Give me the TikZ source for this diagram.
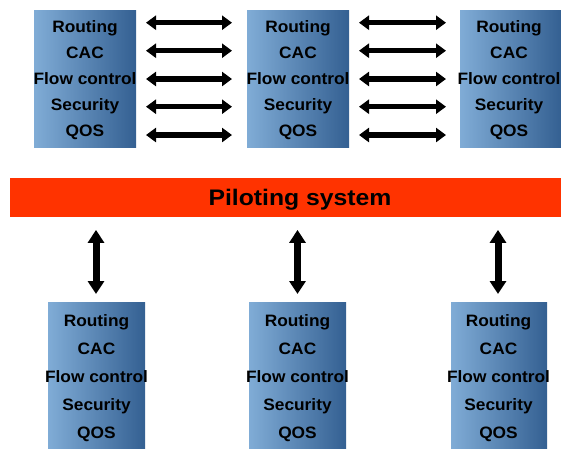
\documentclass[tikz,border=0pt]{standalone}
\usepackage{fontspec}
\setmainfont{Liberation Sans}
\newfontfamily\widesans[FakeStretch=1.05]{Liberation Sans}
\newfontfamily\pilsans[FakeStretch=1.1]{Liberation Sans}
\usetikzlibrary{arrows.meta,calc}
\definecolor{boxL}{RGB}{128,172,214}
\definecolor{boxR}{RGB}{52,96,146}
\definecolor{pilot}{RGB}{255,51,0}
\tikzset{
  stack/.style={inner sep=0pt, outer sep=0pt, left color=boxL, right color=boxR, shading angle=90},
  lbl/.style={font=\widesans\fontsize{16.5}{20}\selectfont\bfseries, inner sep=0pt, text height=12pt, text depth=0pt},
  harr/.style={line width=5.5pt, {Triangle[length=10pt,width=14pt]}-{Triangle[length=10pt,width=14pt]}},
  varr/.style={line width=7pt, {Triangle[length=13pt,width=16pt]}-{Triangle[length=13pt,width=16pt]}}
}
\begin{document}
\begin{tikzpicture}[x=1pt,y=-1pt]
\useasboundingbox (0,0) rectangle (561,448);
% top boxes
\node[stack, minimum width=102pt, minimum height=137pt, anchor=north west] (t1) at (34,10) {};
\node[stack, minimum width=102pt, minimum height=137pt, anchor=north west] (t2) at (247,10) {};
\node[stack, minimum width=101pt, minimum height=137pt, anchor=north west] (t3) at (460,10) {};
% bottom boxes
\node[stack, minimum width=97pt, minimum height=146pt, anchor=north west] (b1) at (48,302) {};
\node[stack, minimum width=97pt, minimum height=146pt, anchor=north west] (b2) at (249,302) {};
\node[stack, minimum width=96pt, minimum height=146pt, anchor=north west] (b3) at (451,302) {};
% labels (anchor at baseline centre)
\foreach \b/\x in {t1/85,t2/298,t3/509}{
  \node[lbl, anchor=base] (\b-r) at (\x,32) {Routing};
  \node[lbl, anchor=base] (\b-c) at (\x,58.2) {CAC};
  \node[lbl, anchor=base] (\b-f) at (\x,84.4) {Flow control};
  \node[lbl, anchor=base] (\b-s) at (\x,110.6) {Security};
  \node[lbl, anchor=base] (\b-q) at (\x,136.8) {QOS};
}
\foreach \b/\x in {b1/96.5,b2/297.5,b3/498.5}{
  \node[lbl, anchor=base] (\b-r) at (\x,326) {Routing};
  \node[lbl, anchor=base] (\b-c) at (\x,354) {CAC};
  \node[lbl, anchor=base] (\b-f) at (\x,382) {Flow control};
  \node[lbl, anchor=base] (\b-s) at (\x,410) {Security};
  \node[lbl, anchor=base] (\b-q) at (\x,438) {QOS};
}
% piloting bar
\node[fill=pilot, inner sep=0pt, minimum width=551pt, minimum height=38.5pt, anchor=north west] (pil) at (10,178) {};
\node[inner sep=0pt, anchor=base, font=\pilsans\fontsize{22.5}{26}\selectfont\bfseries] (pilt) at (300,205.5) {Piloting system};
% horizontal arrows
\foreach \y in {22.7,50.7,79,106.7,135}{
  \draw[harr] ([xshift=10pt]t1.east |- 0,\y) -- ([xshift=-15pt]t2.west |- 0,\y);
  \draw[harr] ([xshift=10pt]t2.east |- 0,\y) -- ([xshift=-14pt]t3.west |- 0,\y);
}
% vertical arrows
\foreach \b/\x in {b1/96,b2/297.5,b3/498}{
  \draw[varr] ([yshift=-13pt]pil.south -| \x,0) -- ([yshift=8pt]\b.north -| \x,0);
}
\end{tikzpicture}
\end{document}
